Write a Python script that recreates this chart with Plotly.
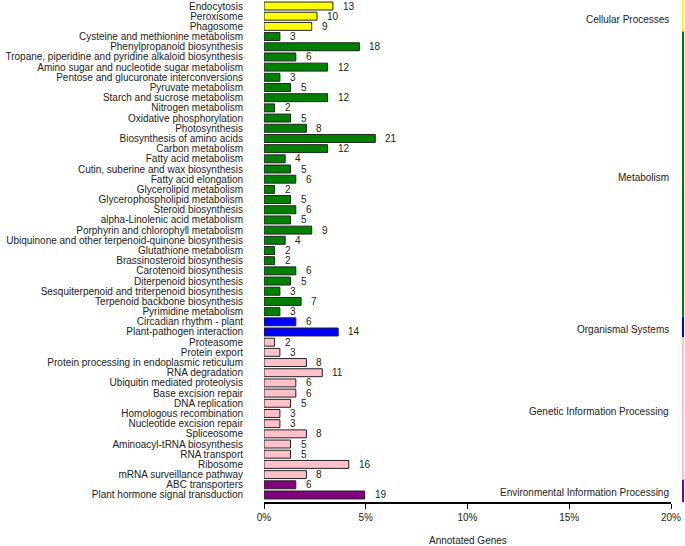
import plotly.graph_objects as go

pathways = [
    "Endocytosis", "Peroxisome", "Phagosome",
    "Cysteine and methionine metabolism", "Phenylpropanoid biosynthesis",
    "Tropane, piperidine and pyridine alkaloid biosynthesis",
    "Amino sugar and nucleotide sugar metabolism",
    "Pentose and glucuronate interconversions", "Pyruvate metabolism",
    "Starch and sucrose metabolism", "Nitrogen metabolism",
    "Oxidative phosphorylation", "Photosynthesis",
    "Biosynthesis of amino acids", "Carbon metabolism",
    "Fatty acid metabolism", "Cutin, suberine and wax biosynthesis",
    "Fatty acid elongation", "Glycerolipid metabolism",
    "Glycerophospholipid metabolism", "Steroid biosynthesis",
    "alpha-Linolenic acid metabolism", "Porphyrin and chlorophyll metabolism",
    "Ubiquinone and other terpenoid-quinone biosynthesis",
    "Glutathione metabolism", "Brassinosteroid biosynthesis",
    "Carotenoid biosynthesis", "Diterpenoid biosynthesis",
    "Sesquiterpenoid and triterpenoid biosynthesis",
    "Terpenoid backbone biosynthesis", "Pyrimidine metabolism",
    "Circadian rhythm - plant", "Plant-pathogen interaction",
    "Proteasome", "Protein export",
    "Protein processing in endoplasmic reticulum", "RNA degradation",
    "Ubiquitin mediated proteolysis", "Base excision repair",
    "DNA replication", "Homologous recombination",
    "Nucleotide excision repair", "Spliceosome",
    "Aminoacyl-tRNA biosynthesis", "RNA transport", "Ribosome",
    "mRNA surveillance pathway", "ABC transporters",
    "Plant hormone signal transduction",
]
gene_counts = [
    13, 10, 9,
    3, 18, 6, 12, 3, 5, 12, 2, 5, 8, 21, 12, 4, 5, 6, 2, 5, 6, 5, 9, 4, 2, 2, 6, 5, 3, 7, 3,
    6, 14,
    2, 3, 8, 11, 6, 6, 5, 3, 3, 8, 5, 5, 16, 8,
    6, 19,
]
group_names = ["Cellular Processes", "Metabolism", "Organismal Systems",
               "Genetic Information Processing", "Environmental Information Processing"]
group_sizes = [3, 28, 2, 14, 2]
group_colors = ["#FFFF00", "#008000", "#0000FF", "#FFC0CB", "#800080"]
total_genes = 384
x_ticks = [0, 5, 10, 15, 20]
x_tick_labels = ["0%", "5%", "10%", "15%", "20%"]

n = len(pathways)
colors = []
for g, s in enumerate(group_sizes):
    colors += [group_colors[g]] * s
pct = [c / total_genes * 100 for c in gene_counts]

FONT = "Liberation Sans, Arial, sans-serif"
FS = 10
TXT = "#222222"

fig = go.Figure(go.Bar(
    x=pct, y=pathways, orientation="h",
    marker=dict(color=colors, line=dict(color="#222222", width=1)),
    width=0.78, hoverinfo="skip",
))

annotations = []
for name, p, c in zip(pathways, pct, gene_counts):
    annotations.append(dict(x=p, y=name, xref="x", yref="y", text=str(c),
                            showarrow=False, xanchor="left", xshift=8,
                            font=dict(family=FONT, size=FS, color=TXT)))

shapes = []
start = 0
top = n - 1 + 0.59
bottom = -0.69
for g, s in enumerate(group_sizes):
    y_hi = n - 1 - start + 0.5
    y_lo = n - 1 - (start + s - 1) - 0.5
    if start == 0:
        y_hi = top
    if start + s == n:
        y_lo = bottom
    shapes.append(dict(type="line", xref="paper", yref="y", x0=1.0295, x1=1.0295,
                       y0=y_lo, y1=y_hi, line=dict(color=group_colors[g], width=2)))
    mid = n - 1 - (start + (s - 1) / 2)
    annotations.append(dict(x=1.0, y=mid - 0.3, xref="paper", yref="y",
                            text=group_names[g], showarrow=False, xanchor="right",
                            font=dict(family=FONT, size=FS, color=TXT)))
    start += s

annotations.append(dict(x=0.5, y=0, xref="paper", yref="paper", yshift=-38,
                        text="Annotated Genes", showarrow=False, yanchor="middle",
                        font=dict(family=FONT, size=FS, color=TXT)))

fig.update_layout(
    width=685, height=546,
    margin=dict(l=264, r=14, t=0, b=44),
    plot_bgcolor="white", paper_bgcolor="white",
    showlegend=False,
    font=dict(family=FONT, size=FS, color=TXT),
    annotations=annotations, shapes=shapes,
    xaxis=dict(range=[0, 20], tickmode="array", tickvals=x_ticks, ticktext=x_tick_labels,
               showgrid=False, zeroline=False, showline=True, linecolor="black",
               linewidth=2, ticks="outside", ticklen=5, tickcolor="black",
               automargin=False,
               tickfont=dict(family=FONT, size=FS, color=TXT)),
    yaxis=dict(type="category", categoryorder="array", categoryarray=pathways[::-1],
               tickmode="array", tickvals=pathways, ticktext=pathways,
               range=[bottom, top], showgrid=False, zeroline=False, showline=False,
               ticks="", ticklabelstandoff=20, automargin=False,
               tickfont=dict(family=FONT, size=FS, color=TXT)),
    bargap=0.2,
)

fig.write_html("out.html", config={"displayModeBar": False},
               post_script="document.body.style.margin='0px';document.body.style.overflow='hidden';")
